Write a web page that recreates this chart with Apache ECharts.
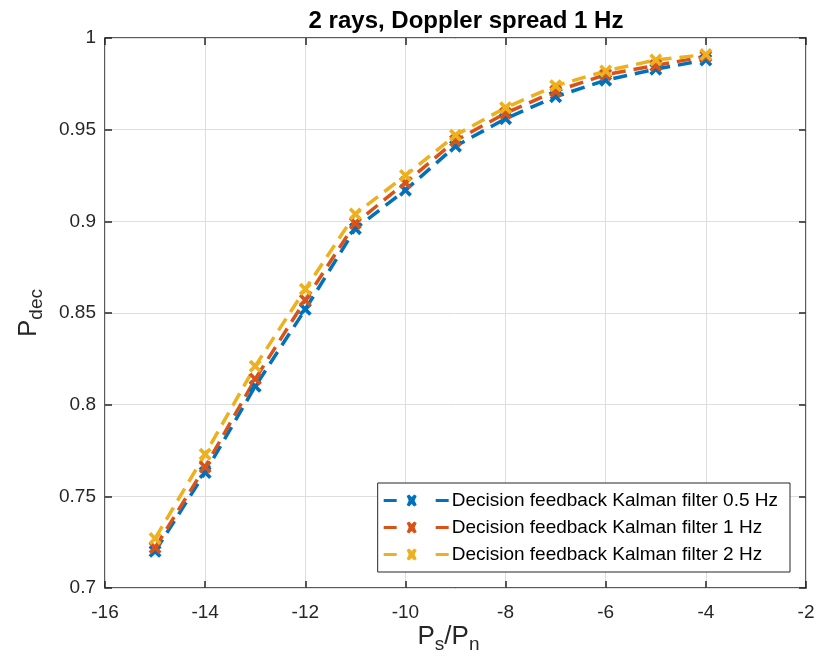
<!DOCTYPE html>
<html>
<head>
<meta charset="utf-8">
<script src="https://cdn.jsdelivr.net/npm/echarts@6/dist/echarts.min.js"></script>
<style>
  html, body { margin: 0; padding: 0; background: #fff; }
  #chart { width: 825px; height: 668px; }
</style>
</head>
<body>
<div id="chart"></div>
<script>
// P_s/P_n, dB
const snr = [-15, -14, -13, -12, -11, -10, -9, -8, -7, -6, -5, -4];
// P_dec values
const kalman05 = [0.720, 0.763, 0.810, 0.852, 0.896, 0.917, 0.941, 0.956, 0.968, 0.977, 0.983, 0.988];
const kalman1 = [0.722, 0.766, 0.814, 0.857, 0.899, 0.921, 0.944, 0.959, 0.971, 0.980, 0.985, 0.990];
const kalman2 = [0.727, 0.773, 0.821, 0.863, 0.904, 0.925, 0.947, 0.962, 0.974, 0.982, 0.988, 0.991];

const names = [
    'Decision feedback Kalman filter 0.5 Hz',
    'Decision feedback Kalman filter 1 Hz',
    'Decision feedback Kalman filter 2 Hz'
];
const colors = ['#0072BD', '#D95319', '#EDB120'];

// толстый крестик как в matlab
const xMark = 'path://M0,2L2,0L5,3L8,0L10,2L7,5L10,8L8,10L5,7L2,10L0,8L3,5Z';
const legendIcon = 'path://M0,8L13,8L13,11L0,11ZM23,5L25.5,3.5L28,6L30.5,3.5L33,5L31,9.5L33,14L30.5,15.5L28,13L25.5,15.5L23,14L25,9.5ZM52,8L65,8L65,11L52,11Z';

function makeSeries(name, values, color) {
    return {
        name: name,
        type: 'line',
        data: snr.map((x, i) => [x, values[i]]),
        symbol: xMark,
        symbolSize: 13,
        lineStyle: { color: color, width: 3.5, type: [14, 8] },
        itemStyle: { color: color },
        z: 3
    };
}

const chart = echarts.init(document.getElementById('chart'));
const font = 'Liberation Sans, Arial, sans-serif';
const axisText = { color: '#262626', fontSize: 19, fontFamily: font };
const tickStyle = { inside: true, length: 7, lineStyle: { color: '#262626', width: 1.5 } };
// P с нижним индексом
const nameRich = {
    p: { fontSize: 26, lineHeight: 26, color: '#262626', verticalAlign: 'top', fontFamily: font },
    s: { fontSize: 19, lineHeight: 19, color: '#262626', padding: [11, 0, 0, 0], verticalAlign: 'top', fontFamily: font }
};

chart.setOption({
    animation: false,
    textStyle: { fontFamily: font },
    title: {
        text: '2 rays, Doppler spread 1 Hz',
        left: 461,
        top: 4,
        textAlign: 'center',
        textStyle: { fontSize: 24, fontWeight: 'bold', color: '#000', fontFamily: font }
    },
    grid: {
        left: 105, right: 19, top: 38, bottom: 80,
        show: true, borderColor: '#262626', borderWidth: 1.5, backgroundColor: '#fff'
    },
    legend: {
        orient: 'vertical',
        right: 35,
        bottom: 96,
        data: names,
        icon: legendIcon,
        itemWidth: 65,
        itemHeight: 19,
        itemGap: 8,
        padding: [8, 12, 8, 6],
        backgroundColor: '#fff',
        borderColor: '#262626',
        borderWidth: 1,
        borderRadius: 0,
        textStyle: { fontSize: 19, color: '#000', fontFamily: font, padding: [0, 0, 0, -2] }
    },
    xAxis: [{
        type: 'value',
        min: -16, max: -2, interval: 2,
        name: '{p|P}{s|s}{p|/P}{s|n}',
        nameLocation: 'middle',
        nameGap: 36,
        nameMoveOverlap: false,
        nameTextStyle: { rich: nameRich, padding: [0, 14, 0, 0] },
        axisLine: { show: false },
        axisTick: tickStyle,
        axisLabel: Object.assign({ margin: 15 }, axisText),
        splitLine: { show: true, lineStyle: { color: '#dedede', width: 1 } }
    }, {
        type: 'value',
        position: 'top',
        min: -16, max: -2, interval: 2,
        axisLine: { show: false },
        axisTick: tickStyle,
        axisLabel: { show: false },
        splitLine: { show: false }
    }],
    yAxis: [{
        type: 'value',
        min: 0.7, max: 1, interval: 0.05,
        name: '{p|P}{s|dec}',
        nameLocation: 'middle',
        nameGap: 63,
        nameRotate: 90,
        nameTextStyle: { rich: nameRich },
        axisLine: { show: false },
        axisTick: tickStyle,
        axisLabel: Object.assign({ margin: 9 }, axisText),
        splitLine: { show: true, lineStyle: { color: '#dedede', width: 1 } }
    }, {
        type: 'value',
        position: 'right',
        min: 0.7, max: 1, interval: 0.05,
        axisLine: { show: false },
        axisTick: tickStyle,
        axisLabel: { show: false },
        splitLine: { show: false }
    }],
    series: [
        makeSeries(names[0], kalman05, colors[0]),
        makeSeries(names[1], kalman1, colors[1]),
        makeSeries(names[2], kalman2, colors[2])
    ]
});
</script>
</body>
</html>
